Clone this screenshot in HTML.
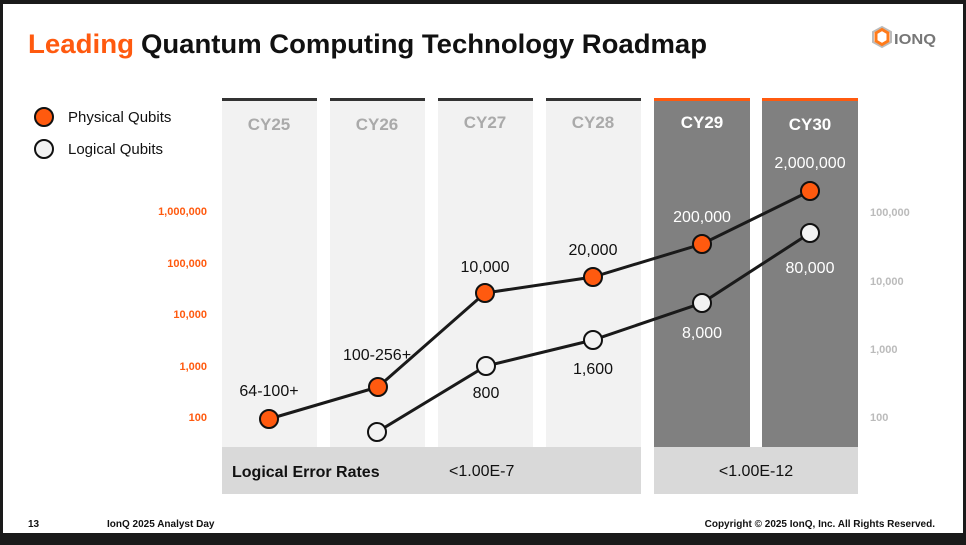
<!DOCTYPE html>
<html><head><meta charset="utf-8"><style>
body{margin:0;background:#1a1a1a;}
.w{position:absolute;left:3px;top:4px;width:960px;height:529px;background:#fff;}
svg{position:absolute;left:0;top:0;font-family:"Liberation Sans",sans-serif;}
</style></head><body>
<div class="w"></div>
<svg width="966" height="545" viewBox="0 0 966 545">
<text x="28" y="53" font-size="27" font-weight="bold" fill="#ff5a0f" textLength="106" lengthAdjust="spacingAndGlyphs">Leading</text>
<text x="141" y="53" font-size="27" font-weight="bold" fill="#111" textLength="566" lengthAdjust="spacingAndGlyphs">Quantum Computing Technology Roadmap</text>
<path d="M873 32 l9 -5 l9 5 v10 l-9 5 l-9 -5z" fill="none" stroke="#bbb" stroke-width="2"/>
<path d="M876 33 l6 -3.5 l6 3.5 v8 l-6 3.5 l-6 -3.5z" fill="none" stroke="#ff7a1a" stroke-width="3"/>
<text x="894" y="44" font-size="15" font-weight="bold" fill="#777" textLength="42" lengthAdjust="spacingAndGlyphs">IONQ</text>
<circle cx="44" cy="117" r="9" fill="#ff5a0f" stroke="#111" stroke-width="2"/>
<text x="68" y="122" font-size="15" fill="#111">Physical Qubits</text>
<circle cx="44" cy="149" r="9" fill="#f2f2f2" stroke="#111" stroke-width="2"/>
<text x="68" y="154" font-size="15" fill="#111">Logical Qubits</text>
<g>
<rect x="222" y="99" width="95" height="348" fill="#f2f2f2"/><rect x="222" y="98" width="95" height="3" fill="#333"/>
<rect x="330" y="99" width="95" height="348" fill="#f2f2f2"/><rect x="330" y="98" width="95" height="3" fill="#333"/>
<rect x="438" y="99" width="95" height="348" fill="#f2f2f2"/><rect x="438" y="98" width="95" height="3" fill="#333"/>
<rect x="546" y="99" width="95" height="348" fill="#f2f2f2"/><rect x="546" y="98" width="95" height="3" fill="#333"/>
<rect x="654" y="99" width="96" height="348" fill="#808080"/><rect x="654" y="98" width="96" height="3" fill="#ff5a0f"/>
<rect x="762" y="99" width="96" height="348" fill="#808080"/><rect x="762" y="98" width="96" height="3" fill="#ff5a0f"/>
</g>
<g font-size="17" font-weight="bold" text-anchor="middle">
<text x="269" y="130" fill="#aaa">CY25</text><text x="377" y="130" fill="#aaa">CY26</text>
<text x="485" y="128" fill="#aaa">CY27</text><text x="593" y="128" fill="#aaa">CY28</text>
<text x="702" y="128" fill="#fff">CY29</text><text x="810" y="130" fill="#fff">CY30</text>
</g>
<rect x="222" y="447" width="419" height="47" fill="#d9d9d9"/>
<rect x="654" y="447" width="204" height="47" fill="#d9d9d9"/>
<text x="232" y="477" font-size="16" font-weight="bold" fill="#111">Logical Error Rates</text>
<text x="449" y="476" font-size="16" fill="#111">&lt;1.00E-7</text>
<text x="756" y="476" font-size="16" fill="#111" text-anchor="middle">&lt;1.00E-12</text>
<g font-size="11" font-weight="bold" fill="#ff5a0f" text-anchor="end">
<text x="207" y="215">1,000,000</text><text x="207" y="267">100,000</text><text x="207" y="318">10,000</text><text x="207" y="370">1,000</text><text x="207" y="421">100</text>
</g>
<g font-size="11" font-weight="bold" fill="#bbb">
<text x="870" y="216">100,000</text><text x="870" y="285">10,000</text><text x="870" y="353">1,000</text><text x="870" y="421">100</text>
</g>
<polyline points="269,419 378,387 485,293 593,277 702,244 810,191" fill="none" stroke="#1a1a1a" stroke-width="3"/>
<polyline points="377,432 486,366 593,340 702,303 810,233" fill="none" stroke="#1a1a1a" stroke-width="3"/>
<g fill="#ff5a0f" stroke="#111" stroke-width="2">
<circle cx="269" cy="419" r="9"/><circle cx="378" cy="387" r="9"/><circle cx="485" cy="293" r="9"/><circle cx="593" cy="277" r="9"/><circle cx="702" cy="244" r="9"/><circle cx="810" cy="191" r="9"/>
</g>
<g fill="#f2f2f2" stroke="#111" stroke-width="2">
<circle cx="377" cy="432" r="9"/><circle cx="486" cy="366" r="9"/><circle cx="593" cy="340" r="9"/><circle cx="702" cy="303" r="9"/><circle cx="810" cy="233" r="9"/>
</g>
<g font-size="16" text-anchor="middle" fill="#111">
<text x="269" y="396">64-100+</text><text x="377" y="360">100-256+</text><text x="485" y="272">10,000</text><text x="593" y="255">20,000</text>
<text x="702" y="222" fill="#fff">200,000</text><text x="810" y="168" fill="#fff">2,000,000</text>
<text x="486" y="398">800</text><text x="593" y="374">1,600</text><text x="702" y="338" fill="#fff">8,000</text><text x="810" y="273" fill="#fff">80,000</text>
</g>
<text x="28" y="527" font-size="10" font-weight="bold" fill="#111">13</text>
<text x="107" y="527" font-size="10" font-weight="bold" fill="#111">IonQ 2025 Analyst Day</text>
<text x="935" y="527" font-size="10" font-weight="bold" fill="#111" text-anchor="end">Copyright © 2025 IonQ, Inc. All Rights Reserved.</text>
</svg>
</body></html>
